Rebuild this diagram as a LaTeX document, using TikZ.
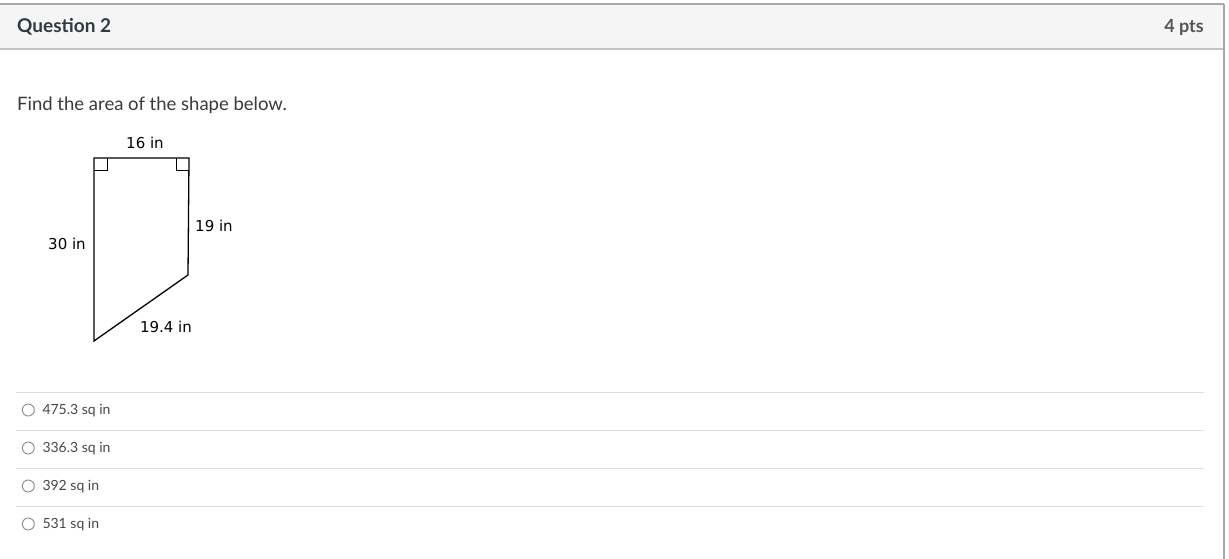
\documentclass[tikz,border=0pt]{standalone}
\usepackage{fontspec}
\setmainfont{Lato}
\newfontfamily\verd{DejaVu Sans}
\definecolor{hdrfill}{HTML}{F5F5F5}
\definecolor{bordergray}{HTML}{A8A8A8}
\definecolor{hdrline}{HTML}{C4C4C4}
\definecolor{sepline}{HTML}{DDDDDD}
\definecolor{txtdark}{HTML}{2D3B45}
\definecolor{txtmain}{HTML}{3A3A3A}
\definecolor{txtopt}{HTML}{474747}
\definecolor{ptsgray}{HTML}{555555}
\definecolor{radiogray}{HTML}{8A8A8A}
\tikzset{
  hdrtext/.style={inner sep=0pt, font=\fontsize{19}{22}\selectfont\bfseries},
  bodytext/.style={inner sep=0pt, anchor=base west, text=txtmain, font=\fontsize{18.5}{22}\selectfont},
  opttext/.style={inner sep=0pt, anchor=base west, text=txtopt, font=\fontsize{14}{17}\selectfont},
  dimlabel/.style={inner sep=0pt, anchor=base, font=\verd\fontsize{15}{18}\selectfont},
  radio/.style={circle, draw=radiogray, line width=0.9pt, minimum size=12pt, inner sep=0pt},
  shapeline/.style={draw=black, line width=1.3pt, line join=miter},
  rightang/.style={draw=black, line width=1pt}
}
\begin{document}
\begin{tikzpicture}[x=1pt,y=-1pt]
\path[use as bounding box] (0,0) rectangle (1229,559);
\fill[white] (0,0) rectangle (1229,559);
% header
\fill[hdrfill] (0,4) rectangle (1224,49);
\draw[bordergray, line width=1.2pt] (0,4) -- (1224,4);
\draw[hdrline, line width=1.2pt] (0,49) -- (1224,49);
\draw[bordergray, line width=1.2pt] (1224,4) -- (1224,559);
\node[hdrtext, anchor=base west, text=txtdark] (qtitle) at (17,32.5) {Question 2};
\node[hdrtext, anchor=base east, text=ptsgray, font=\fontsize{18}{22}\selectfont\bfseries] (pts) at (1204,33) {4 pts};
% prompt
\node[bodytext] (prompt) at (17,110.7) {Find the area of the shape below.};
% shape
\coordinate (tl) at (94,158);
\coordinate (tr) at (189,158);
\coordinate (br) at (188,275);
\coordinate (bl) at (94,341);
\draw[shapeline] (tl) -- (tr) -- (br) -- (bl) -- cycle;
\draw[rightang] (94,171) -- (107,171) -- (107,158);
\draw[rightang] (176,158) -- (176,171) -- (189,171);
\node[dimlabel] (top) at (145,148.3) {16 in};
\node[dimlabel] (left) at (67,249) {30 in};
\node[dimlabel] (right) at (214,231) {19 in};
\node[dimlabel] (slant) at (166,332.3) {19.4 in};
% options
\foreach \yy in {392.3,430.3,468.3,506.3} {
  \draw[sepline, line width=1pt] (16,\yy) -- (1204,\yy);
}
\node[radio] (r1) at (28.3,410) {};
\node[radio] (r2) at (28.3,448) {};
\node[radio] (r3) at (28.3,486) {};
\node[radio] (r4) at (28.3,524) {};
\node[opttext] (o1) at (42.3,414.5) {475.3 sq in};
\node[opttext] (o2) at (42.3,452.5) {336.3 sq in};
\node[opttext] (o3) at (42.3,490.5) {392 sq in};
\node[opttext] (o4) at (42.3,528.5) {531 sq in};
\end{tikzpicture}
\end{document}
